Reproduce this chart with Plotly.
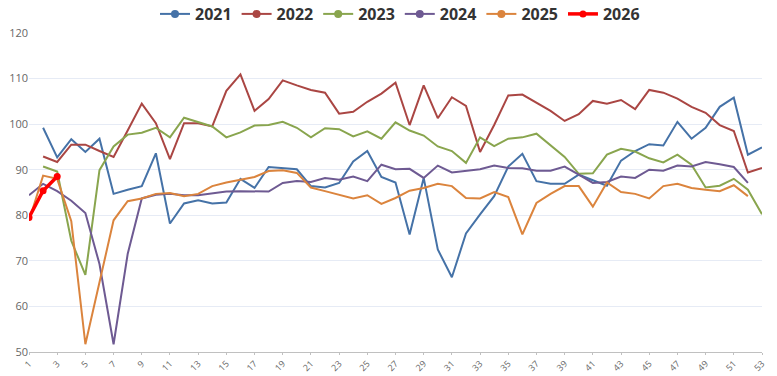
import plotly.graph_objects as go

weeks = list(range(1, 54))

s2021 = [None, 99.2, 92.7, 96.7, 93.9, 96.8, 84.7, 85.6, 86.4, 93.6, 78.2, 82.6,
         83.3, 82.6, 82.8, 88.0, 86.0, 90.6, 90.4, 90.1, 86.4, 86.1, 87.1, 91.8,
         94.1, 88.4, 87.2, 75.8, 88.2, 72.5, 66.4, 76.0, 80.2, 84.2, 90.7, 93.5,
         87.5, 86.9, 86.9, 88.9, 87.7, 86.5, 92.0, 94.1, 95.6, 95.3, 100.5, 96.8,
         99.2, 103.8, 105.8, 93.3, 94.9]
s2022 = [None, 92.9, 91.7, 95.5, 95.5, 94.1, 92.8, 98.6, 104.5, 100.2, 92.3, 100.2,
         100.2, 99.5, 107.3, 110.9, 102.9, 105.5, 109.6, 108.5, 107.5, 106.9, 102.3, 102.7,
         104.9, 106.7, 109.1, 99.8, 108.5, 101.3, 105.9, 104.0, 93.9, 99.8, 106.3, 106.5,
         104.7, 102.9, 100.7, 102.2, 105.1, 104.5, 105.3, 103.3, 107.5, 106.9, 105.6, 103.8,
         102.5, 99.8, 98.5, 89.4, 90.4]
s2023 = [None, 90.7, 89.6, 74.4, 66.9, 89.9, 95.1, 97.7, 98.1, 99.2, 97.1, 101.4,
         100.5, 99.5, 97.1, 98.2, 99.7, 99.8, 100.5, 99.2, 97.1, 99.1, 98.9, 97.3,
         98.4, 96.8, 100.4, 98.6, 97.5, 95.1, 94.1, 91.5, 97.1, 95.2, 96.8, 97.1,
         97.9, 95.3, 92.8, 89.1, 89.2, 93.3, 94.6, 94.0, 92.5, 91.6, 93.3, 91.1,
         86.1, 86.5, 88.0, 85.6, 80.2]
s2024 = [84.4, 86.9, 85.3, 83.2, 80.5, 69.3, 51.7, 71.5, 83.7, 84.5, 84.7, 84.4,
         84.4, 84.8, 85.2, 85.3, 85.3, 85.2, 87.1, 87.5, 87.3, 88.2, 87.8, 88.5,
         87.5, 91.1, 90.1, 90.2, 88.2, 90.9, 89.4, 89.8, 90.1, 90.9, 90.4, 90.3,
         89.8, 89.8, 90.7, 88.9, 87.1, 87.3, 88.5, 88.2, 90.0, 89.8, 90.9, 90.7,
         91.7, 91.2, 90.6, 87.1, None]
s2025 = [78.8, 88.7, 88.0, 78.7, 51.7, 65.6, 78.9, 83.1, 83.7, 84.7, 84.9, 84.2,
         84.7, 86.4, 87.2, 87.8, 88.4, 89.7, 89.9, 89.3, 86.1, 85.3, 84.5, 83.7,
         84.4, 82.5, 83.8, 85.4, 86.0, 86.9, 86.4, 83.8, 83.7, 85.1, 84.0, 75.8,
         82.7, 84.7, 86.4, 86.4, 81.9, 87.2, 85.1, 84.7, 83.7, 86.4, 86.9, 86.0,
         85.6, 85.3, 86.6, 84.2, None]
s2026 = [79.5, 85.4, 88.5]

series = [
    ("2021", s2021, "#4572A7"),
    ("2022", s2022, "#AA4643"),
    ("2023", s2023, "#89A54E"),
    ("2024", s2024, "#6E5A92"),
    ("2025", s2025, "#DB843D"),
]

fig = go.Figure()
for name, vals, color in series:
    fig.add_trace(go.Scatter(x=weeks[:len(vals)], y=vals, mode="lines", name=name,
                             line=dict(color=color, width=2), showlegend=False,
                             legendgroup=name))
    fig.add_trace(go.Scatter(x=[None], y=[None], mode="lines+markers", name=name,
                             line=dict(color=color, width=2),
                             marker=dict(color=color, size=8), legendgroup=name))

fig.add_trace(go.Scatter(x=weeks[:len(s2026)], y=s2026, mode="lines+markers", name="2026",
                         line=dict(color="#FF0000", width=3.5),
                         marker=dict(color="#FF0000", size=7)))

fig.update_layout(
    template="none",
    width=777, height=376,
    margin=dict(l=29, r=15, t=33, b=24, autoexpand=False),
    paper_bgcolor="white", plot_bgcolor="white",
    font=dict(family="Open Sans, sans-serif", color="#666666", size=10),
    hovermode=False,
    legend=dict(orientation="h", x=400 / 777, xanchor="center", xref="container",
                y=1 - 14 / 376, yanchor="middle", yref="container",
                font=dict(size=16, color="#333333", family="Open Sans, sans-serif", weight="bold"),
                itemwidth=30, tracegroupgap=0, bgcolor="rgba(0,0,0,0)"),
)
fig.update_xaxes(range=[1, 53], tickvals=list(range(1, 54, 2)), tickangle=-45,
                 showgrid=False, zeroline=False, showline=True, linecolor="#C0C0C0",
                 linewidth=1, ticks="outside", ticklen=2, tickcolor="#C0C0C0",
                 tickfont=dict(size=9, color="#666666"))
fig.update_yaxes(range=[50, 120], dtick=10, showgrid=True, gridcolor="#E6EBF5",
                 gridwidth=1, zeroline=False, showline=False, ticks="",
                 tickfont=dict(size=11, color="#666666"))

fig.write_html("out.html", config={"displayModeBar": False},
               post_script="document.body.style.margin='0';")
